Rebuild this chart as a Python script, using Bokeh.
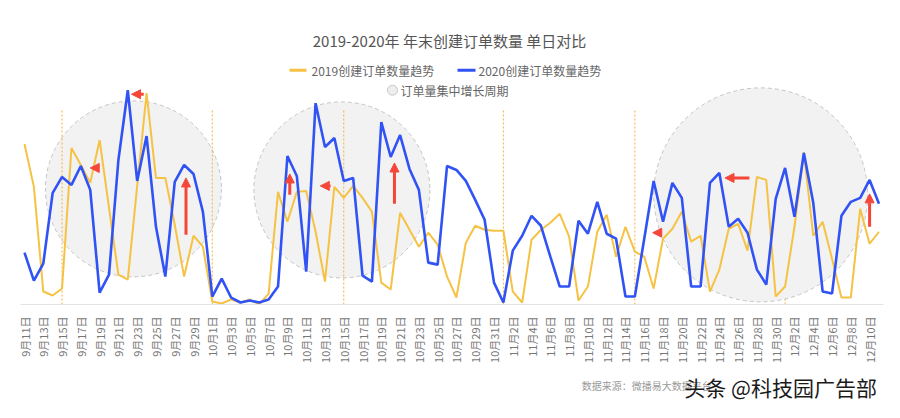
import datetime
import numpy as np
from bokeh.plotting import figure
from bokeh.layouts import column
from bokeh.models import Range1d, Arrow, NormalHead, FixedTicker
from bokeh.core.properties import value
from bokeh.embed import file_html
from bokeh.resources import INLINE

# ---------------- data ----------------
start = datetime.date(2019, 9, 11)
dates = [start + datetime.timedelta(days=k) for k in range(92)]
date_labels = [f"{d.month}月{d.day}日" for d in dates]

orders_2019 = [161, 118, 13, 9, 16, 157, 140, 122, 165, 97,
               30, 25, 119, 212, 127, 127, 80, 28, 69, 58,
               3, 1, 5, 2, 5, 0, 11, 113, 83, 113,
               114, 73, 23, 118, 107, 119, 107, 93, 22, 15,
               92, 75, 58, 72, 60, 28, 7, 62, 79, 75,
               74, 74, 13, 2, 65, 75, 82, 91, 68, 4,
               18, 73, 90, 48, 78, 53, 48, 16, 66, 76,
               93, 63, 69, 13, 35, 76, 81, 54, 128, 125,
               8, 18, 78, 153, 69, 83, 46, 7, 7, 96,
               61, 73]

orders_2020 = [52, 24, 41, 112, 128, 120, 139, 115, 12, 30,
               145, 215, 124, 169, 78, 28, 123, 140, 131, 93,
               8, 26, 7, 2, 4, 2, 5, 18, 149, 129,
               33, 202, 158, 167, 124, 127, 29, 23, 183, 148,
               170, 136, 115, 42, 40, 139, 135, 124, 105, 85,
               22, 2, 54, 69, 89, 79, 48, 18, 18, 84,
               71, 103, 71, 66, 8, 8, 66, 124, 83, 122,
               107, 18, 18, 122, 132, 78, 86, 72, 35, 20,
               106, 137, 88, 152, 102, 13, 11, 89, 103, 107,
               125, 101]

tick_positions = list(range(0, 92, 2))
tick_labels = [date_labels[i] for i in tick_positions]

marker_dates = ["9月15日", "10月1日", "10月15日", "11月1日", "11月15日", "12月1日"]
marker_height = 195

# highlighted growth periods (centre date index, centre value, diameter px)
period_x = [11.6, 33.8, 78.4]
period_y = [116, 115, 110]
period_d = [176, 176, 214]

# red arrows (start/end in index/value units)
arrow_x0 = [7.8, 12.7, 17.2, 28.25, 32.6, 39.4, 67.9, 77.2, 90.0]
arrow_x1 = [7.0, 11.4, 17.2, 28.25, 31.5, 39.4, 66.9, 74.6, 90.0]
arrow_y0 = [137, 211, 70, 110, 119, 101, 72, 127, 78]
arrow_y1 = [137, 211, 127, 131, 119, 142, 72, 127, 111]

footer_texts = ["数据来源：微播易大数据平台", "头条 @科技园广告部"]

# ---------------- helpers for reference-pixel placement ----------------
X0, DX, BASE = 24.0, 9.39, 305.0
def dx(px):
    return (px - X0) / DX
def dy(py):
    return BASE - py

FONT = "Noto Sans CJK SC"
YELLOW = "#f5c244"
BLUE = "#3153f5"
RED = "#f4473a"

p = figure(width=884, height=365, output_backend="svg", toolbar_location=None,
           x_range=Range1d(dx(20), dx(883)), y_range=Range1d(0, 297),
           min_border_left=20, min_border_right=1, min_border_top=8,
           min_border_bottom=60)
p.outline_line_color = None
p.grid.visible = False
p.yaxis.visible = False
p.background_fill_color = "white"

# circles 1 & 2
p.scatter(period_x[:2], period_y[:2], size=period_d[:2], marker="circle",
          fill_color="#f2f2f2", line_color="#c4c4c4", line_dash="4 3", line_width=1)

# dotted markers
mx = [date_labels.index(m) for m in marker_dates]
p.segment(x0=mx, y0=[0] * len(mx), x1=mx, y1=[marker_height] * len(mx),
          line_color="#f3b23c", line_dash="2 2", line_width=1)

# circle 3 (covers the last marker)
p.scatter(period_x[2:], period_y[2:], size=period_d[2:], marker="circle",
          fill_color="#f2f2f2", line_color="#c4c4c4", line_dash="4 3", line_width=1)

xs = list(range(len(dates)))
p.line(xs, orders_2019, line_color=YELLOW, line_width=2)
p.line(xs, orders_2020, line_color=BLUE, line_width=2.6)

for a, b, c, d in zip(arrow_x0, arrow_y0, arrow_x1, arrow_y1):
    p.add_layout(Arrow(end=NormalHead(size=9, fill_color=RED, line_color=RED),
                       x_start=a, y_start=b, x_end=c, y_end=d,
                       line_color=RED, line_width=3))

# title
p.text(x=[dx(449)], y=[dy(40)], text=["2019-2020年 年末创建订单数量 单日对比"],
       text_font=value(FONT), text_font_size="15px", text_color="#555555",
       text_align="center", text_baseline="middle")

# legend
p.segment(x0=[dx(289)], y0=[dy(70)], x1=[dx(306)], y1=[dy(70)], line_color=YELLOW, line_width=3)
p.segment(x0=[dx(457)], y0=[dy(70)], x1=[dx(475)], y1=[dy(70)], line_color=BLUE, line_width=3)
p.text(x=[dx(311), dx(478)], y=[dy(70), dy(70)],
       text=["2019创建订单数量趋势", "2020创建订单数量趋势"],
       text_font=value(FONT), text_font_size="12px", text_color="#666666",
       text_align="left", text_baseline="middle")
p.scatter([dx(392)], [dy(90)], size=10, marker="circle",
          fill_color="#eeeeee", line_color="#c8c8c8", line_width=1)
p.text(x=[dx(400)], y=[dy(90)], text=["订单量集中增长周期"],
       text_font=value(FONT), text_font_size="12px", text_color="#666666",
       text_align="left", text_baseline="middle")

# x axis
ax = p.xaxis[0]
ax.ticker = FixedTicker(ticks=tick_positions)
ax.major_label_overrides = {i: lab for i, lab in zip(tick_positions, tick_labels)}
ax.major_label_orientation = np.pi / 2
ax.major_tick_line_color = None
ax.minor_tick_line_color = None
ax.axis_line_color = "#e3e3e3"
ax.major_label_standoff = 6
ax.major_label_text_font = FONT
ax.major_label_text_font_size = "11px"
ax.major_label_text_color = "#777777"

# footer strip (reference pixels: y 365..402)
f = figure(width=884, height=37, output_backend="svg", toolbar_location=None,
           x_range=Range1d(0, 884), y_range=Range1d(0, 37),
           min_border=0, min_border_left=0, min_border_right=0,
           min_border_top=0, min_border_bottom=0)
f.axis.visible = False
f.grid.visible = False
f.outline_line_color = None
f.text(x=[575], y=[37 - (385 - 365)], text=[footer_texts[0]],
       text_font=value(FONT), text_font_size="10px", text_color="#9a9a9a",
       text_align="left", text_baseline="middle")
f.text(x=[680], y=[37 - (386 - 365)], text=[footer_texts[1]],
       text_font=value(FONT), text_font_size="21px", text_color="#1a1a1a",
       text_align="left", text_baseline="middle")

layout = column(p, f, spacing=0)
open("out.html", "w").write(file_html(layout, INLINE))
